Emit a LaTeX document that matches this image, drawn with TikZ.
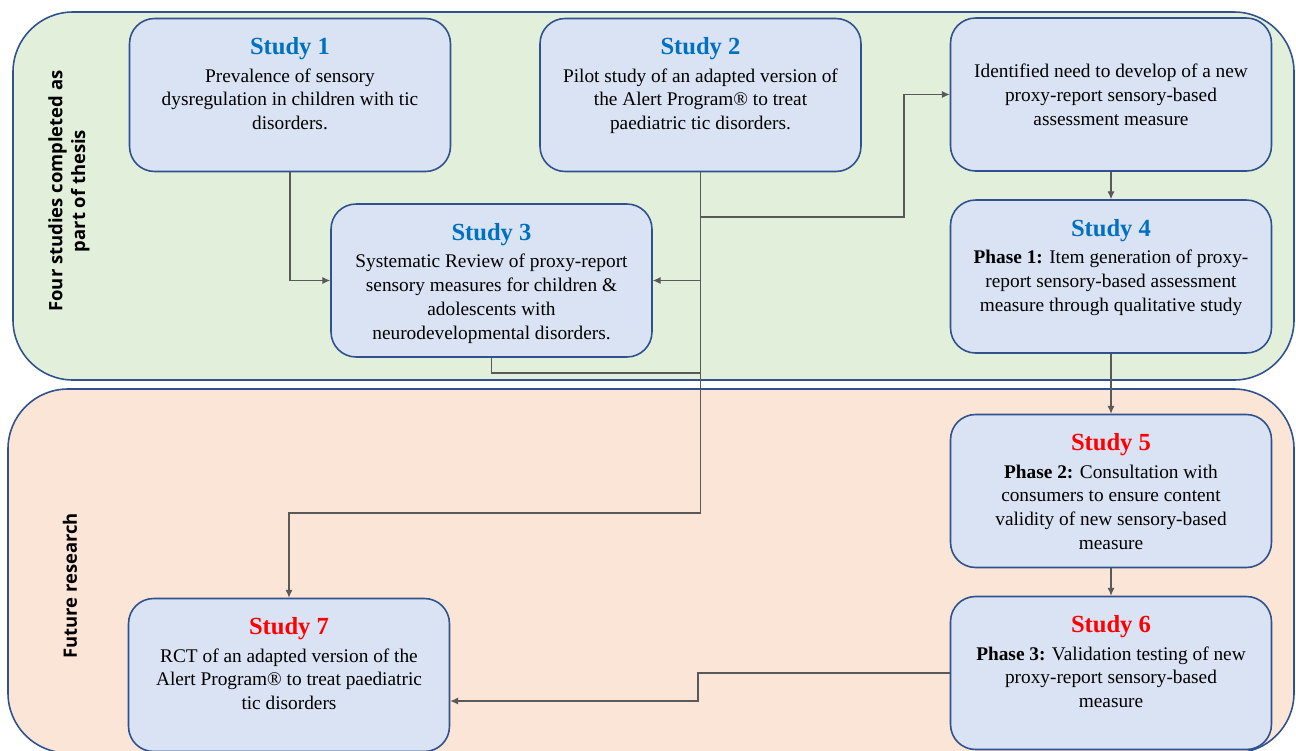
\documentclass[tikz,border=0pt]{standalone}
\usepackage{fontspec}
\setmainfont{Liberation Serif}
\newfontfamily\sidefont{Open Sans}
\usetikzlibrary{arrows.meta,positioning,calc}
\definecolor{thesisbg}{RGB}{226,239,218}
\definecolor{futurebg}{RGB}{251,229,214}
\definecolor{boxfill}{RGB}{218,227,243}
\definecolor{boxline}{RGB}{47,82,143}
\definecolor{donetitle}{RGB}{0,112,192}
\definecolor{todotitle}{RGB}{255,0,0}
\definecolor{connector}{RGB}{89,89,89}

\newcommand{\studyhead}[2]{{\color{#1}\fontsize{14}{16}\selectfont\bfseries Study #2}}

\begin{document}
\begin{tikzpicture}[
    x=0.02cm, y=-0.02cm,
    every node/.style={font=\fontsize{11}{13.6}\selectfont},
    region/.style={draw=boxline, line width=0.9pt, rounded corners=1.2cm},
    box/.style={rectangle, draw=boxline, fill=boxfill, line width=0.9pt, rounded corners=0.5cm, minimum width=6.42cm, minimum height=3.06cm},
    boxtext/.style={align=center, inner sep=0pt},
    side/.style={font=\sidefont\bfseries\fontsize{10.5}{13}\selectfont, align=center, rotate=90},
    line/.style={draw=connector, line width=0.6pt},
    arrow/.style={line, -{Latex[length=4.5pt,width=4pt]}},
]

\useasboundingbox (0,0) rectangle (1296,751);
\clip (0,0) rectangle (1296,751);

% Background panels
\path[region, fill=thesisbg] (13,12) rectangle (1294,380);
\path[region, fill=futurebg] (8,389) rectangle (1294,753);

% Panel labels
\node[side] (thesislbl) at (69,191) {Four studies completed as\\part of thesis};
\node[side] (futurelbl) at (70,586) {Future research};

% Completed studies
\node[box] (s1) at (290,95) {};
\node[boxtext, below=0.39cm of s1.north] (s1txt) {\studyhead{donetitle}{1}\\[2pt]
    Prevalence of sensory\\dysregulation in children with tic\\disorders.};

\node[box] (s2) at (700.5,95) {};
\node[boxtext, below=0.39cm of s2.north] (s2txt) {\studyhead{donetitle}{2}\\[2pt]
    Pilot study of an adapted version of\\the Alert Program® to treat\\paediatric tic disorders.};

\node[box, align=center] (need) at (1111,94.5) {Identified need to develop of a new\\
    proxy-report sensory-based\\assessment measure};

\node[box] (s3) at (491.5,280.5) {};
\node[boxtext, below=0.39cm of s3.north] (s3txt) {\studyhead{donetitle}{3}\\[2pt]
    Systematic Review of proxy-report\\sensory measures for children \&\\adolescents with\\neurodevelopmental disorders.};

\node[box] (s4) at (1111,276.5) {};
\node[boxtext, below=0.39cm of s4.north] (s4txt) {\studyhead{donetitle}{4}\\[2pt]
    \textbf{Phase 1:} Item generation of proxy-\\report sensory-based assessment\\measure through qualitative study};

% Future studies
\node[box] (s5) at (1111,491) {};
\node[boxtext, below=0.39cm of s5.north] (s5txt) {\studyhead{todotitle}{5}\\[2pt]
    \textbf{Phase 2:} Consultation with\\consumers to ensure content\\validity of new sensory-based\\measure};

\node[box] (s6) at (1111,673) {};
\node[boxtext, below=0.39cm of s6.north] (s6txt) {\studyhead{todotitle}{6}\\[2pt]
    \textbf{Phase 3:} Validation testing of new\\proxy-report sensory-based\\measure};

\node[box] (s7) at (289,675) {};
\node[boxtext, below=0.39cm of s7.north] (s7txt) {\studyhead{todotitle}{7}\\[2pt]
    RCT of an adapted version of the\\Alert Program® to treat paediatric\\tic disorders};

% Connectors
\coordinate (split) at (700.5,513);
\coordinate (bend) at (904,217);
\coordinate (merge) at (700.5,373);
\coordinate (kink) at (698,701);

\draw[arrow] (s1.south) |- (s3.west);
\draw[arrow] (s2.south) -- (split) -| (s7.north);
\draw[arrow] (s2.south |- s3.east) -- (s3.east);
\draw[arrow] (s2.south |- bend) -- (bend) |- (need.west);
\draw[line] (s3.south) |- (merge);

\draw[arrow] (need) -- (s4);
\draw[arrow] (s4) -- (s5);
\draw[arrow] (s5) -- (s6);
\draw[arrow] (s6.west) -| (kink) -- (kink -| s7.east);

\end{tikzpicture}
\end{document}
